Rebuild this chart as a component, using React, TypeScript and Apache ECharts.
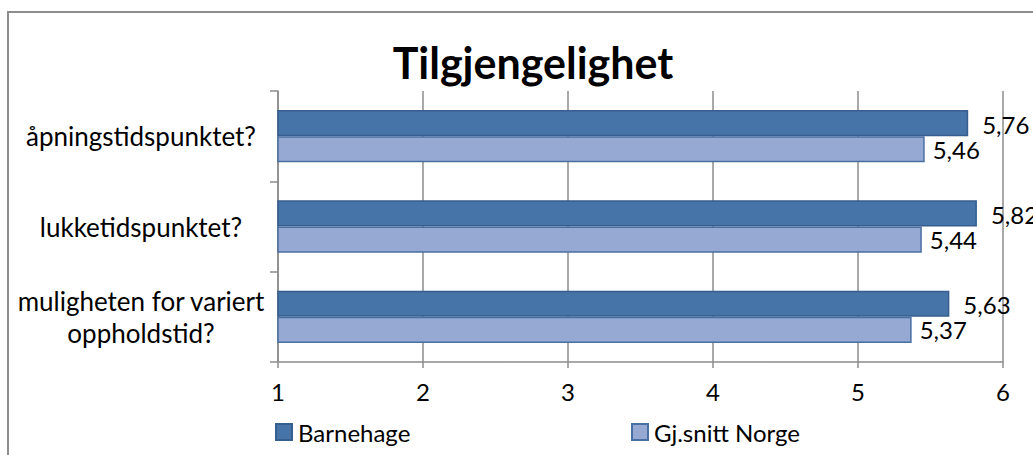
import React, { useEffect, useRef } from "react";
import * as echarts from "echarts";

const title = "Tilgjengelighet";
const categories = [
  "åpningstidspunktet?",
  "lukketidspunktet?",
  "muligheten for variert\noppholdstid?",
];
const seriesNames = ["Barnehage", "Gj.snitt Norge"];
const barnehage = [5.76, 5.82, 5.63];
const snittNorge = [5.46, 5.44, 5.37];
const xTicks = [1, 2, 3, 4, 5, 6];

const FONT = "Lato, 'Open Sans', sans-serif";
const FS = 24;

export default function App() {
  const ref = useRef<HTMLDivElement>(null);
  useEffect(() => {
    if (!ref.current) return;
    const chart = echarts.init(ref.current, undefined, { renderer: "svg" });
    const fmt = (p: any) => Number(p.value).toFixed(2).replace(".", ",");
    chart.setOption({
      animation: false,
      backgroundColor: "#ffffff",
      textStyle: { fontFamily: FONT, color: "#000" },
      title: {
        text: title,
        left: 528,
        textAlign: "center",
        top: 36,
        textStyle: { fontFamily: FONT, fontSize: 43, fontWeight: "bold", color: "#000" },
      },
      graphic: [
        {
          type: "rect",
          shape: { x: 8, y: 12, width: 1100, height: 500 },
          style: { fill: "none", stroke: "#8c8c8c", lineWidth: 2 },
          silent: true,
          z: -1,
        },
      ],
      legend: [
        {
          data: [seriesNames[0]],
          icon: "rect",
          left: 270,
          top: 415,
          itemWidth: 16,
          itemHeight: 16,
          itemGap: 6,
          textStyle: { fontFamily: FONT, fontSize: FS, color: "#000", padding: [0, 0, 0, 1] },
        },
        {
          data: [seriesNames[1]],
          icon: "rect",
          left: 626,
          top: 415,
          itemWidth: 16,
          itemHeight: 16,
          itemGap: 6,
          textStyle: { fontFamily: FONT, fontSize: FS, color: "#000", padding: [0, 0, 0, 1] },
        },
      ],
      grid: { left: 278, right: 30, top: 91, bottom: 93, containLabel: false },
      xAxis: {
        type: "value",
        min: xTicks[0],
        max: xTicks[xTicks.length - 1],
        interval: 1,
        axisLine: { show: true, lineStyle: { color: "#8c8c8c", width: 1.5 } },
        axisTick: { show: true, length: 6, lineStyle: { color: "#8c8c8c", width: 1.5 } },
        splitLine: { show: true, lineStyle: { color: "#8c8c8c", width: 1.5 } },
        axisLabel: { fontFamily: FONT, fontSize: FS, color: "#000", margin: 17 },
      },
      yAxis: {
        type: "category",
        data: categories,
        inverse: true,
        axisLine: { show: true, lineStyle: { color: "#8c8c8c", width: 1.5 } },
        axisTick: { show: true, length: 8, lineStyle: { color: "#8c8c8c", width: 1.5 } },
        axisLabel: {
          fontFamily: FONT,
          fontSize: 26,
          color: "#000",
          align: "center",
          margin: 137,
          lineHeight: 32,
        },
      },
      series: [
        {
          name: seriesNames[0],
          type: "bar",
          data: barnehage,
          barGap: "0%",
          barCategoryGap: "42%",
          itemStyle: { color: "#4673a8", borderColor: "#365e8f", borderWidth: 1.5 },
          label: {
            show: true,
            position: "right",
            distance: 14,
            formatter: fmt,
            fontFamily: FONT,
            fontSize: FS,
            color: "#000",
            offset: [0, 1],
          },
        },
        {
          name: seriesNames[1],
          type: "bar",
          data: snittNorge,
          barGap: "0%",
          barCategoryGap: "42%",
          itemStyle: { color: "#95a9d2", borderColor: "#4a6fa3", borderWidth: 1.5 },
          label: {
            show: true,
            position: "right",
            distance: 8,
            formatter: fmt,
            fontFamily: FONT,
            fontSize: FS,
            color: "#000",
            offset: [0, 0],
          },
        },
      ],
    });
    return () => chart.dispose();
  }, []);
  return (
    <div
      ref={ref}
      style={{ position: "absolute", left: 0, top: 0, width: 1033, height: 455 }}
    />
  );
}
